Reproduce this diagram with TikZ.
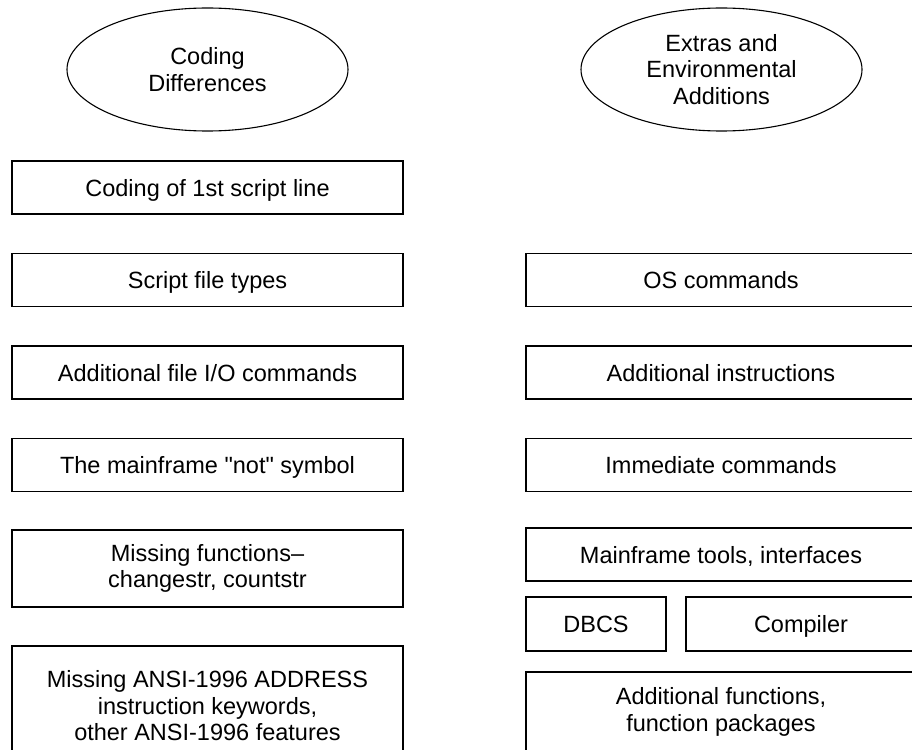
\documentclass[tikz,border=0pt]{standalone}
\usepackage{fontspec}
\setmainfont{Liberation Sans}
\usetikzlibrary{shapes.geometric}

\begin{document}
\begin{tikzpicture}[x=1pt, y=-1pt, line width=1.1pt,
        every node/.style={font=\fontsize{23.5}{26.5}\selectfont, align=center, inner sep=0pt},
        topic/.style={ellipse, draw, minimum width=281pt, minimum height=123pt},
        box/.style={rectangle, draw},
        item/.style={box, minimum height=53pt, text height=17pt, text depth=0pt}]
        % Frame (the boxes at the edges are cut off)
        \useasboundingbox (0,0) rectangle (912,749);
        \clip (0,0) rectangle (912,749);

        % Headings
        \node[topic] (coding) at (207.5,69.5) {Coding\\Differences};
        \node[topic] (extras) at (721.5,69.5) {Extras and\\Environmental\\Additions};

        % Left column
        \node[item, minimum width=391pt] (firstline) at (207.5,187.5) {Coding of 1st script line};
        \node[item, minimum width=391pt] (filetypes) at (207.5,280) {Script file types};
        \node[item, minimum width=391pt] (fileio) at (207.5,372.5) {Additional file I/O commands};
        \node[item, minimum width=391pt] (notsym) at (207.5,465) {The mainframe \textquotedbl not\textquotedbl{} symbol};
        \node[box, minimum width=391pt, minimum height=77pt] (missfunc) at (207.5,568.5) {Missing functions--\\changestr, countstr};
        \node[box, minimum width=391pt, minimum height=120pt] (ansi) at (207.5,706) {Missing ANSI-1996 ADDRESS\\instruction keywords,\\other ANSI-1996 features};

        % Right column
        \node[item, minimum width=390pt] (oscmd) at (721,280) {OS commands};
        \node[item, minimum width=390pt] (addinstr) at (721,372.5) {Additional instructions};
        \node[item, minimum width=390pt] (immcmd) at (721,465) {Immediate commands};
        \node[item, minimum width=390pt] (mftools) at (721,554.5) {Mainframe tools, interfaces};
        \node[item, minimum width=140pt, minimum height=54pt] (dbcs) at (596,624) {DBCS};
        \node[item, minimum width=230pt, minimum height=54pt] (compiler) at (801,624) {Compiler};
        \node[box, minimum width=390pt, minimum height=80pt] (addfunc) at (721,712) {Additional functions,\\function packages};
    \end{tikzpicture}
\end{document}
